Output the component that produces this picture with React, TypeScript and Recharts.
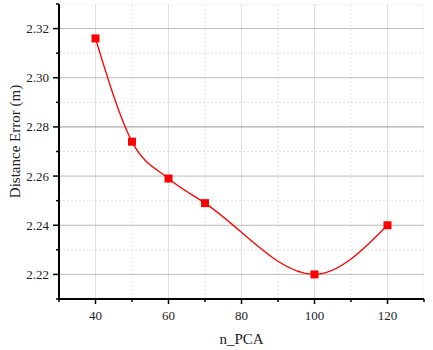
import { LineChart, Line, XAxis, YAxis, ReferenceLine } from "recharts";

const nPca = [40, 50, 60, 70, 100, 120];
const distanceError = [2.316, 2.274, 2.259, 2.249, 2.22, 2.24];

const xMajor = [40, 60, 80, 100, 120];
const xMinor = [30, 50, 70, 90, 110, 130];
const yMajor = [2.22, 2.24, 2.26, 2.28, 2.3, 2.32];
const yMinor = [2.21, 2.23, 2.25, 2.27, 2.29, 2.31, 2.33];

const data = nPca.map((n, i) => ({ n, err: distanceError[i] }));

const FONT = "'Liberation Serif', 'Times New Roman', serif";

const isMajor = (list: number[], v: number) => list.some((m) => Math.abs(m - v) < 1e-6);

function XTick(props: any) {
  const { x, y, payload } = props;
  const major = isMajor(xMajor, payload.value);
  return (
    <g>
      <line x1={x} x2={x} y1={y} y2={y + (major ? 5 : 3)} stroke="#000" strokeWidth={1.5} />
      {major && (
        <text x={x} y={y + 21} textAnchor="middle" fontSize={13} fontFamily={FONT} fill="#222">
          {payload.value}
        </text>
      )}
    </g>
  );
}

function YTick(props: any) {
  const { x, y, payload } = props;
  const major = isMajor(yMajor, payload.value);
  return (
    <g>
      <line x1={x} x2={x - (major ? 6 : 3)} y1={y} y2={y} stroke="#000" strokeWidth={1.5} />
      {major && (
        <text x={x - 10} y={y + 4.5} textAnchor="end" fontSize={13} fontFamily={FONT} fill="#222">
          {payload.value.toFixed(2)}
        </text>
      )}
    </g>
  );
}

function Square(props: any) {
  const { cx, cy } = props;
  if (cx == null || cy == null) return null;
  return <rect x={cx - 4} y={cy - 4} width={8} height={8} fill="#ff0000" />;
}

export default function App() {
  return (
    <div style={{ position: "absolute", left: 0, top: 0, background: "#fff" }}>
      <LineChart width={433} height={350} data={data} margin={{ top: 4, right: 9, left: 0, bottom: 0 }}>
        {xMinor.map((v) => (
          <ReferenceLine key={"xm" + v} x={v} stroke="#e4e4e4" strokeDasharray="2 2" ifOverflow="hidden" />
        ))}
        {xMajor.map((v) => (
          <ReferenceLine key={"xM" + v} x={v} stroke="#e0e0e0" />
        ))}
        {yMinor.map((v) => (
          <ReferenceLine key={"ym" + v} y={v} stroke="#e0e0e0" strokeDasharray="2 2" ifOverflow="hidden" />
        ))}
        {yMajor.map((v) => (
          <ReferenceLine key={"yM" + v} y={v} stroke={v === 2.28 ? "#999" : "#bbb"} />
        ))}
        <XAxis
          dataKey="n"
          type="number"
          domain={[30, 130]}
          ticks={[...xMajor, ...xMinor].sort((a, b) => a - b)}
          interval={0}
          height={51}
          tickSize={0}
          tickMargin={0}
          tickLine={false}
          tick={<XTick />}
          axisLine={{ stroke: "#000", strokeWidth: 2 }}
          label={{ value: "n_PCA", position: "insideBottom", offset: 6, fontSize: 15, fontFamily: FONT, fill: "#222" }}
        />
        <YAxis
          type="number"
          domain={[2.21, 2.33]}
          ticks={[...yMajor, ...yMinor].sort((a, b) => a - b)}
          interval={0}
          width={59}
          tickSize={0}
          tickMargin={0}
          tickLine={false}
          tick={<YTick />}
          axisLine={{ stroke: "#000", strokeWidth: 2 }}
          label={{
            value: "Distance Error (m)",
            angle: -90,
            position: "insideLeft",
            offset: 15,
            dy: -10,
            fontSize: 15,
            fontFamily: FONT,
            fill: "#222",
            style: { textAnchor: "middle" },
          }}
        />
        <Line
          type="monotone"
          dataKey="err"
          stroke="#ff0000"
          strokeWidth={1.3}
          dot={<Square />}
          activeDot={false}
          isAnimationActive={false}
        />
      </LineChart>
    </div>
  );
}
